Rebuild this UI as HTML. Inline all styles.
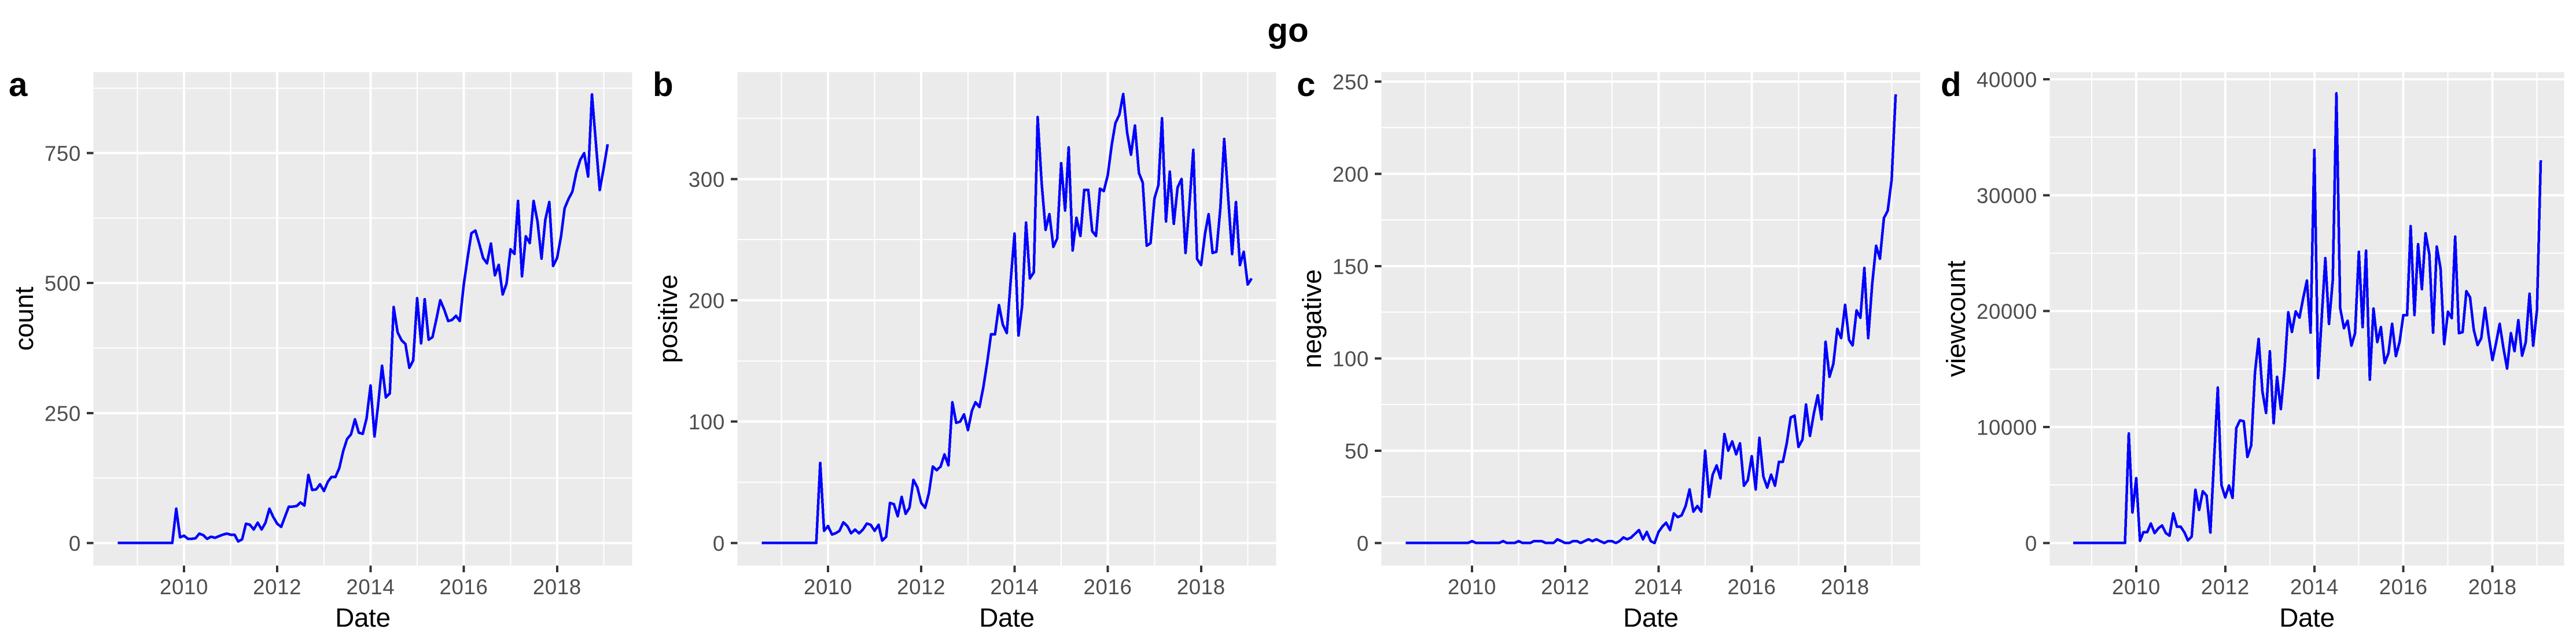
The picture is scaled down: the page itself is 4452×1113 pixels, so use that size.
<!DOCTYPE html>
<html lang="en">
<head>
<meta charset="utf-8">
<title>go</title>
<style>
  html, body { margin: 0; padding: 0; background: #fff; }
  svg { display: block; }
  text { font-family: "Liberation Sans", Arial, sans-serif; }
  .tick-label { font-size: 36.67px; fill: #4D4D4D; letter-spacing: 0.6px; }
  .axis-title { font-size: 45.8px; fill: #000; letter-spacing: -0.3px; }
  .tag { font-size: 58.3px; font-weight: bold; fill: #000; }
  .plot-title { font-size: 58.3px; font-weight: bold; fill: #000; }
</style>
</head>
<body>
<svg id="figure" xmlns="http://www.w3.org/2000/svg" width="4452" height="1113" viewBox="0 0 4452 1113">
  <rect x="0" y="0" width="4452" height="1113" fill="#fff"/>
  <text class="plot-title" x="2226" y="72" text-anchor="middle">go</text>

  <g id="panel-a">
    <text class="tag" x="15" y="166">a</text>
    <text class="axis-title" transform="translate(57,551) rotate(-90)" text-anchor="middle">count</text>
    <text class="axis-title" x="627" y="1083" text-anchor="middle">Date</text>
  </g>
  <g id="panel-b">
    <text class="tag" x="1128" y="166">b</text>
    <text class="axis-title" transform="translate(1170,551) rotate(-90)" text-anchor="middle">positive</text>
    <text class="axis-title" x="1740" y="1083" text-anchor="middle">Date</text>
  </g>
  <g id="panel-c">
    <text class="tag" x="2241" y="166">c</text>
    <text class="axis-title" transform="translate(2283,551) rotate(-90)" text-anchor="middle">negative</text>
    <text class="axis-title" x="2853" y="1083" text-anchor="middle">Date</text>
  </g>
  <g id="panel-d">
    <text class="tag" x="3354" y="166">d</text>
    <text class="axis-title" transform="translate(3396,551) rotate(-90)" text-anchor="middle">viewcount</text>
    <text class="axis-title" x="3987" y="1083" text-anchor="middle">Date</text>
  </g>
</svg>

<script>
// ---- chart data ----
const months = [
  "2008-08","2008-09","2008-10","2008-11","2008-12",
  "2009-01","2009-02","2009-03","2009-04","2009-05","2009-06","2009-07","2009-08","2009-09","2009-10","2009-11","2009-12",
  "2010-01","2010-02","2010-03","2010-04","2010-05","2010-06","2010-07","2010-08","2010-09","2010-10","2010-11","2010-12",
  "2011-01","2011-02","2011-03","2011-04","2011-05","2011-06","2011-07","2011-08","2011-09","2011-10","2011-11","2011-12",
  "2012-01","2012-02","2012-03","2012-04","2012-05","2012-06","2012-07","2012-08","2012-09","2012-10","2012-11","2012-12",
  "2013-01","2013-02","2013-03","2013-04","2013-05","2013-06","2013-07","2013-08","2013-09","2013-10","2013-11","2013-12",
  "2014-01","2014-02","2014-03","2014-04","2014-05","2014-06","2014-07","2014-08","2014-09","2014-10","2014-11","2014-12",
  "2015-01","2015-02","2015-03","2015-04","2015-05","2015-06","2015-07","2015-08","2015-09","2015-10","2015-11","2015-12",
  "2016-01","2016-02","2016-03","2016-04","2016-05","2016-06","2016-07","2016-08","2016-09","2016-10","2016-11","2016-12",
  "2017-01","2017-02","2017-03","2017-04","2017-05","2017-06","2017-07","2017-08","2017-09","2017-10","2017-11","2017-12",
  "2018-01","2018-02","2018-03","2018-04","2018-05","2018-06","2018-07","2018-08","2018-09","2018-10","2018-11","2018-12",
  "2019-01","2019-02"
];
const countValues = [
  0,0,0,0,0,0,0,0,0,0,0,0,0,0,0,
  66,11,14,8,8,9,18,15,8,12,10,13,16,18,16,16,3,7,37,35,26,39,26,39,66,50,37,31,50,70,70,71,78,72,
  131,102,103,113,100,118,127,127,144,177,200,209,238,212,210,240,
  303,205,265,341,280,288,454,405,390,383,337,351,471,384,469,391,396,431,467,449,427,429,437,427,
  497,550,596,601,576,548,538,576,515,535,478,499,565,556,658,513,590,577,658,618,547,622,656,533,
  548,590,644,662,676,713,737,750,705,863,769,679,721,767
];
const positiveValues = [
  0,0,0,0,0,0,0,0,0,0,0,0,0,0,0,
  66,10,14,7,8,10,17,14,8,11,8,11,16,15,10,15,2,5,33,32,22,38,24,29,52,46,33,29,41,63,60,63,73,64,
  116,99,100,106,93,109,116,112,128,149,172,172,196,180,173,215,
  255,171,195,264,218,223,351,297,258,271,244,251,313,274,326,241,268,253,291,291,257,253,292,290,
  303,328,346,353,370,338,320,344,305,297,245,247,284,295,350,265,306,263,293,300,239,278,324,234,
  229,255,271,239,240,276,333,285,238,281,229,240,213,218
];
const negativeValues = [
  0,0,0,0,0,0,0,0,0,0,0,0,0,0,0,0,0,
  1,0,0,0,0,0,0,0,1,0,0,0,1,0,0,0,1,1,1,0,0,0,2,1,0,0,1,1,0,1,2,1,
  2,1,0,1,1,0,1,3,2,3,5,7,2,6,1,0,
  6,9,11,7,16,14,15,20,29,17,20,17,50,25,37,42,35,59,50,55,48,54,31,34,
  47,29,57,36,30,37,31,44,44,54,68,69,52,56,75,58,70,80,67,109,90,97,116,111,
  129,110,107,126,122,149,111,140,161,154,176,180,197,243
];
const viewcountValues = [
  0,0,0,0,0,0,0,0,0,0,0,0,0,0,0,
  9450,2630,5590,180,930,930,1680,850,1260,1510,850,630,2560,1400,1400,900,220,550,4590,2850,
  4460,4090,900,7100,13410,5000,3930,4960,3890,9920,10580,10500,7420,8420,14700,17600,13080,11220,
  16540,10330,14330,11550,14910,19900,18200,19980,19440,21100,22640,18150,
  33900,14230,19200,24570,18900,22670,38790,20260,18530,19170,17020,18100,25120,18620,25220,14090,
  20220,17330,18620,15520,16380,18910,16120,17330,19660,19660,27330,19660,25780,21900,26720,24910,
  18140,25570,23700,17160,19950,19400,26430,18100,18190,21720,21200,18360,17070,17670,20290,17850,
  15780,17330,18910,16810,15050,18100,16550,19220,16160,17330,21500,17020,20090,33020
];
const xMajorYears = [2010, 2012, 2014, 2016, 2018];
const xMinorYears = [2009, 2011, 2013, 2015, 2017, 2019];
const countMajorTicks = [0, 250, 500, 750];
const countMinorTicks = [125, 375, 625, 875];
const positiveMajorTicks = [0, 100, 200, 300];
const positiveMinorTicks = [50, 150, 250, 350];
const negativeMajorTicks = [0, 50, 100, 150, 200, 250];
const negativeMinorTicks = [25, 75, 125, 175, 225];
const viewcountMajorTicks = [0, 10000, 20000, 30000, 40000];
const viewcountMinorTicks = [5000, 15000, 25000, 35000];

// ---- layout ----
const SVG_NS = 'http://www.w3.org/2000/svg';
const PANEL_TOP = 124.5;
const PANEL_BOTTOM = 977.5;

function monthToTime(label) {
  const parts = label.split('-');
  return Date.UTC(Number(parts[0]), Number(parts[1]) - 1, 1);
}

const timeMin = monthToTime(months[0]);
const timeMax = monthToTime(months[months.length - 1]);
const timePad = (timeMax - timeMin) * 0.05;

function makeXScale(left, right) {
  const d0 = timeMin - timePad;
  const d1 = timeMax + timePad;
  return function (t) { return left + (t - d0) / (d1 - d0) * (right - left); };
}

function makeYScale(domainMin, domainMax) {
  return function (v) {
    return PANEL_BOTTOM - (v - domainMin) / (domainMax - domainMin) * (PANEL_BOTTOM - PANEL_TOP);
  };
}

function makeSvg(tag, parent) {
  const el = document.createElementNS(SVG_NS, tag);
  parent.appendChild(el);
  return el;
}

function setLine(el, x1, y1, x2, y2, color, width) {
  el.setAttribute('x1', x1);
  el.setAttribute('y1', y1);
  el.setAttribute('x2', x2);
  el.setAttribute('y2', y2);
  el.setAttribute('stroke', color);
  el.setAttribute('stroke-width', width);
  el.setAttribute('shape-rendering', 'crispEdges');
}

function drawPanel(panelId, key, left, right, domainMin, domainMax, majorTicks, minorTicks, values) {
  const host = document.getElementById(panelId);
  const layer = document.createElementNS(SVG_NS, 'g');
  host.insertBefore(layer, host.firstChild);
  
  

  const xScale = makeXScale(left, right);
  const yScale = makeYScale(domainMin, domainMax);

  const bg = makeSvg('rect', layer);
  
  
  bg.setAttribute('x', left);
  bg.setAttribute('y', PANEL_TOP);
  bg.setAttribute('width', right - left);
  bg.setAttribute('height', PANEL_BOTTOM - PANEL_TOP);
  bg.setAttribute('fill', '#EBEBEB');
  bg.setAttribute('shape-rendering', 'crispEdges');

  minorTicks.forEach(function (v) {
    const g = makeSvg('line', layer);
    
    
    setLine(g, left, yScale(v), right, yScale(v), '#fff', 2);
  });
  xMinorYears.forEach(function (year) {
    const x = xScale(Date.UTC(year, 0, 1));
    const g = makeSvg('line', layer);
    
    
    setLine(g, x, PANEL_TOP, x, PANEL_BOTTOM, '#fff', 2);
  });
  majorTicks.forEach(function (v) {
    const y = yScale(v);
    const g = makeSvg('line', layer);
    
    
    setLine(g, left, y, right, y, '#fff', 4);

    const tick = makeSvg('line', layer);
    
    
    setLine(tick, left - 11.5, y, left, y, '#333333', 4);

    const label = makeSvg('text', layer);
    
    
    label.setAttribute('class', 'tick-label');
    label.setAttribute('x', left - 21.5);
    label.setAttribute('y', y + 13.5);
    label.setAttribute('text-anchor', 'end');
    label.textContent = String(v);
  });
  xMajorYears.forEach(function (year) {
    const x = xScale(Date.UTC(year, 0, 1));
    const g = makeSvg('line', layer);
    
    
    setLine(g, x, PANEL_TOP, x, PANEL_BOTTOM, '#fff', 4);

    const tick = makeSvg('line', layer);
    
    
    setLine(tick, x, PANEL_BOTTOM, x, PANEL_BOTTOM + 11.5, '#333333', 4);

    const label = makeSvg('text', layer);
    
    
    label.setAttribute('class', 'tick-label');
    label.setAttribute('x', x);
    label.setAttribute('y', 1027);
    label.setAttribute('text-anchor', 'middle');
    label.textContent = String(year);
  });

  const points = values.map(function (v, i) {
    return xScale(monthToTime(months[i])).toFixed(2) + ',' + yScale(v).toFixed(2);
  });
  const series = makeSvg('polyline', layer);
  
  
  series.setAttribute('points', points.join(' '));
  series.setAttribute('fill', 'none');
  series.setAttribute('stroke', '#0000FF');
  series.setAttribute('stroke-width', 4.5);
  series.setAttribute('stroke-linejoin', 'round');
  series.setAttribute('stroke-linecap', 'butt');
  series.setAttribute('shape-rendering', 'crispEdges');
}

drawPanel('panel-a', 'count', 161.4, 1092.5, -43.5, 906.0, countMajorTicks, countMinorTicks, countValues);
drawPanel('panel-b', 'positive', 1274.4, 2205.5, -18.64, 388.1, positiveMajorTicks, positiveMinorTicks, positiveValues);
drawPanel('panel-c', 'negative', 2387.4, 3318.5, -12.25, 255.1, negativeMajorTicks, negativeMinorTicks, negativeValues);
drawPanel('panel-d', 'viewcount', 3542.4, 4431.5, -1951, 40628, viewcountMajorTicks, viewcountMinorTicks, viewcountValues);
</script>
</body>
</html>
